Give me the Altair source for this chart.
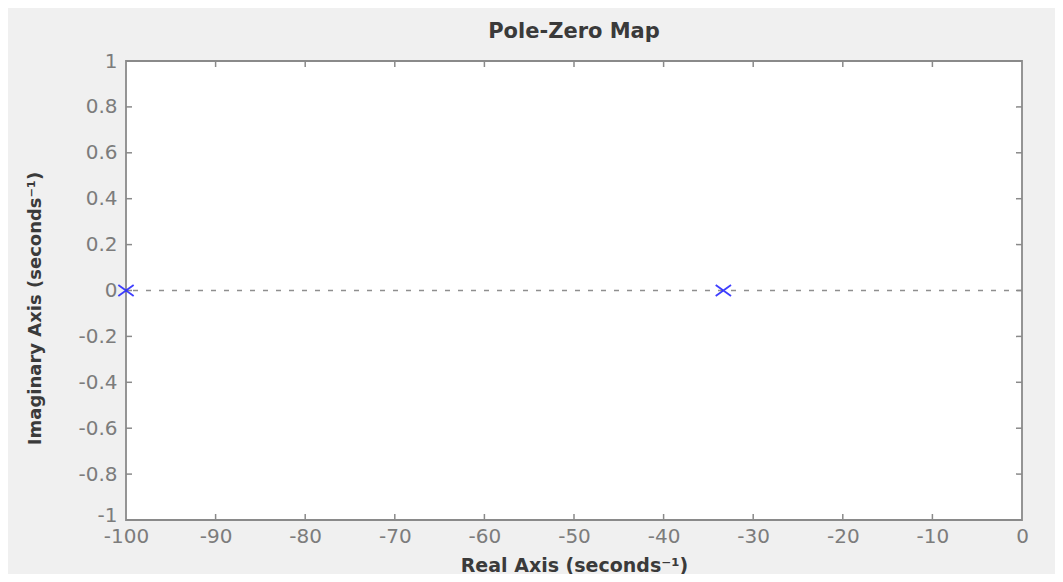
import altair as alt
import pandas as pd

# Data
pole_real = [-100.0, -33.33]
pole_imag = [0.0, 0.0]
x_ticks = [-100, -90, -80, -70, -60, -50, -40, -30, -20, -10, 0]
y_ticks = [-1.0, -0.8, -0.6, -0.4, -0.2, 0.0, 0.2, 0.4, 0.6, 0.8, 1.0]
zero_line = [0.0]

W, H = 896, 459
FONT = "DejaVu Sans"
GRAY = "#8a8a8a"
LABEL = "#7c7c7c"
DARK = "#3a3a3a"

poles = pd.DataFrame({"re": pole_real, "im": pole_imag})
xt = pd.DataFrame({"v": x_ticks[1:-1]})
yt = pd.DataFrame({"v": y_ticks[1:-1]})
zl = pd.DataFrame({"y": zero_line})

lab = "(datum.value < 0 ? '-' : '') + format(abs(datum.value), '~g')"

xscale = alt.Scale(domain=[-100, 0], nice=False, zero=False)
yscale = alt.Scale(domain=[-1, 1], nice=False, zero=False)

xaxis = alt.Axis(values=x_ticks, ticks=False, domain=False, grid=False,
                 labelExpr=lab, labelFont=FONT, labelFontSize=20, labelColor=LABEL,
                 labelPadding=6, labelFlush=False, labelOverlap=False,
                 title="Real Axis (seconds\u207b\u00b9)", titleFont=FONT, titleFontSize=19,
                 titleColor=DARK, titleFontWeight="bold", titleY=45, titleBaseline="middle",
                 titleX=W / 2, titleAlign="center")
yaxis = alt.Axis(values=y_ticks, ticks=False, domain=False, grid=False,
                 labelExpr=lab, labelFont=FONT, labelFontSize=20, labelColor=LABEL,
                 labelPadding=9, labelFlush=False, labelOverlap=False,
                 labelOffset={"condition": {"test": "datum.value == -1", "value": -5}, "value": 0},
                 title="Imaginary Axis (seconds\u207b\u00b9)", titleFont=FONT, titleFontSize=18,
                 titleColor=DARK, titleFontWeight="bold", titleX=-91, titleY=247,
                 titleAngle=270, titleBaseline="middle", titleAlign="center")

base_zero = alt.Chart(zl).mark_rule(color="#8f8f8f", strokeWidth=1.5, strokeDash=[5, 8]).encode(
    y=alt.Y("y:Q", scale=yscale, axis=yaxis),
)

pts = alt.Chart(poles).mark_point(
    shape="M-1.25,-0.9L1.25,0.9M-1.25,0.9L1.25,-0.9",
    filled=False, color="#2a2aff", strokeWidth=1.8, size=150, opacity=0.9, clip=False,
).encode(
    x=alt.X("re:Q", scale=xscale, axis=xaxis),
    y=alt.Y("im:Q", scale=yscale),
)

tick_style = dict(color=GRAY, strokeWidth=1.5)
bot = alt.Chart(xt).mark_rule(**tick_style).encode(
    x=alt.X("v:Q", scale=xscale), y=alt.value(H - 6), y2=alt.value(H))
top = alt.Chart(xt).mark_rule(**tick_style).encode(
    x=alt.X("v:Q", scale=xscale), y=alt.value(0), y2=alt.value(6))
left = alt.Chart(yt).mark_rule(**tick_style).encode(
    y=alt.Y("v:Q", scale=yscale), x=alt.value(0), x2=alt.value(6))
right = alt.Chart(yt).mark_rule(**tick_style).encode(
    y=alt.Y("v:Q", scale=yscale), x=alt.value(W - 6), x2=alt.value(W))

chart = alt.layer(base_zero, bot, top, left, right, pts).properties(
    width=W, height=H,
    autosize=alt.AutoSizeParams(type="none"),
    padding={"left": 118, "top": 53, "right": 33, "bottom": 54},
    background="#f0f0f0",
    title=alt.TitleParams("Pole-Zero Map", font=FONT, fontSize=21, fontWeight="bold",
                          color=DARK, offset=9, anchor="middle"),
).configure_view(stroke=GRAY, strokeWidth=1.8, fill="white")

chart.save("out.html", embed_options={"renderer": "svg", "actions": False})
